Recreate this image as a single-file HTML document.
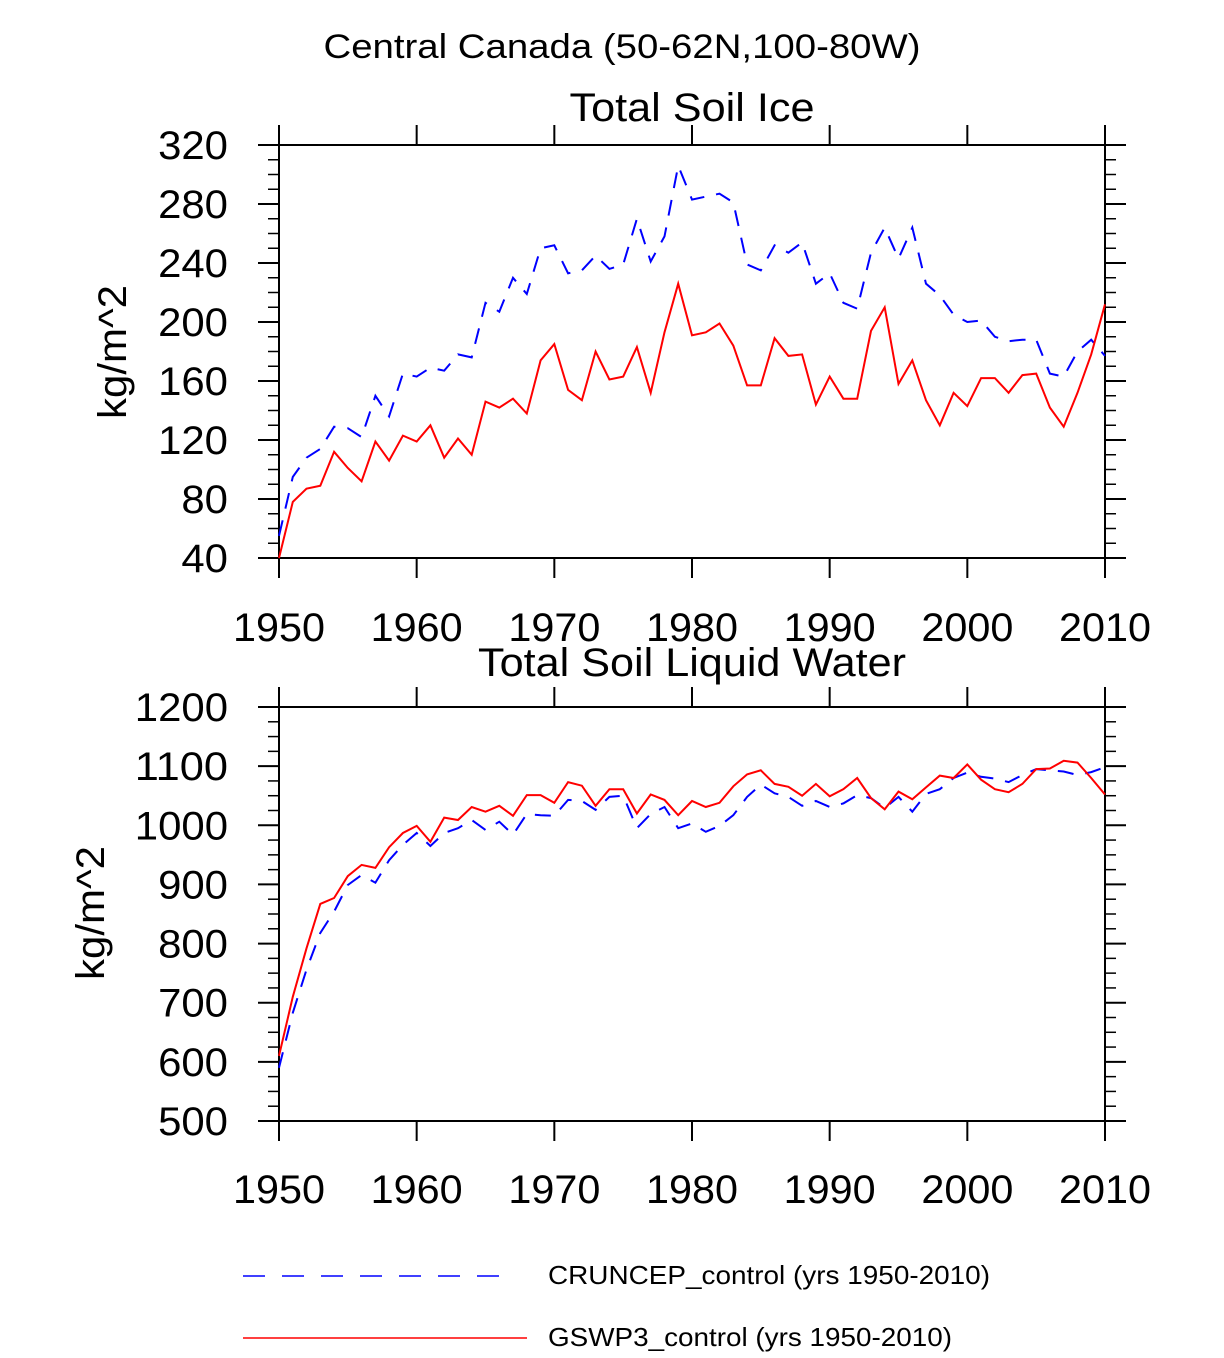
<!DOCTYPE html>
<html><head><meta charset="utf-8"><style>
body{margin:0;background:#fff;}
svg text{font-family:"Liberation Sans",Arial,sans-serif;fill:#000;}
</style></head><body>
<svg id="chart" width="1224" height="1353" viewBox="0 0 1224 1353" xmlns="http://www.w3.org/2000/svg">
<text x="622" y="58" font-size="34" text-anchor="middle" textLength="597" lengthAdjust="spacingAndGlyphs">Central Canada (50-62N,100-80W)</text>
<text x="692" y="121" font-size="40" text-anchor="middle" textLength="245" lengthAdjust="spacingAndGlyphs">Total Soil Ice</text>
<text x="692" y="676" font-size="40" text-anchor="middle" textLength="428" lengthAdjust="spacingAndGlyphs">Total Soil Liquid Water</text>
<text transform="translate(126,352) rotate(-90)" font-size="40" text-anchor="middle" textLength="134" lengthAdjust="spacingAndGlyphs">kg/m^2</text>
<text transform="translate(104,913) rotate(-90)" font-size="40" text-anchor="middle" textLength="134" lengthAdjust="spacingAndGlyphs">kg/m^2</text>
<g id="p1"></g><g id="p2"></g>
<g>
<line x1="243" y1="1276" x2="515" y2="1276" stroke="#0000ff" stroke-width="1.5" stroke-dasharray="22,17"/>
<text x="548" y="1284" font-size="26" textLength="442" lengthAdjust="spacingAndGlyphs">CRUNCEP_control (yrs 1950-2010)</text>
<line x1="243" y1="1338" x2="527" y2="1338" stroke="#ff0000" stroke-width="1.5"/>
<text x="548" y="1346" font-size="26" textLength="404" lengthAdjust="spacingAndGlyphs">GSWP3_control (yrs 1950-2010)</text>
</g>
</svg>
<script>
const years=[];for(let y=1950;y<=2010;y++)years.push(y);
const xTicks=[1950,1960,1970,1980,1990,2000,2010];
const iceYTicks=[40,80,120,160,200,240,280,320];
const liqYTicks=[500,600,700,800,900,1000,1100,1200];
const iceCruncep=[55,95,108,114,129,128,122,150,136,165,163,169,167,178,176,213,207,230,219,250,252,233,235,245,236,239,270,241,258,306,283,285,287,281,239,235,252,247,254,226,233,213,209,247,264,243,264,226,218,205,200,201,190,187,188,188,165,163,180,188,177];
const iceGswp3=[40,78,87,89,112,101,92,119,106,123,119,130,108,121,110,146,142,148,138,174,185,154,147,180,161,163,183,152,193,226,191,193,199,184,157,157,189,177,178,144,163,148,148,194,210,158,174,147,130,152,143,162,162,152,164,165,142,129,152,178,212];
const liqCruncep=[590,683,756,818,854,899,916,903,941,967,987,965,987,995,1009,992,1006,984,1019,1017,1016,1043,1041,1026,1048,1050,995,1019,1031,995,1003,989,999,1017,1048,1069,1054,1048,1033,1041,1031,1037,1051,1046,1029,1048,1023,1053,1061,1080,1089,1082,1079,1073,1085,1095,1093,1091,1085,1090,1098];
const liqGswp3=[610,710,792,867,877,914,933,928,963,987,999,972,1013,1009,1031,1023,1033,1016,1051,1051,1038,1073,1067,1033,1061,1061,1020,1052,1043,1017,1041,1031,1038,1066,1086,1093,1070,1065,1050,1070,1049,1061,1080,1046,1027,1057,1044,1064,1084,1080,1103,1077,1061,1056,1070,1095,1096,1109,1106,1080,1052];
const NS='http://www.w3.org/2000/svg';
function mk(t,a,p){const e=document.createElementNS(NS,t);for(const k in a)e.setAttribute(k,a[k]);p.appendChild(e);return e;}
function plot(g,top,bot,ymin,ymax,yt,minorStep,s1,s2,labY,key){
  const L=279,R=1105;
  const X=v=>L+(v-1950)/60*(R-L);
  const Y=v=>bot-(v-ymin)/(ymax-ymin)*(bot-top);
  const fr=mk('rect',{x:L,y:top,width:R-L,height:bot-top,fill:'none',stroke:'#000','stroke-width':2},g);
  
  
  for(let v=ymin;v<=ymax+1e-9;v+=minorStep){
    const major=yt.includes(Math.round(v));const len=major?21:11;
    mk('line',{x1:L-len,y1:Y(v),x2:L,y2:Y(v),stroke:'#000','stroke-width':major?2:1.5},g);
    mk('line',{x1:R,y1:Y(v),x2:R+len,y2:Y(v),stroke:'#000','stroke-width':major?2:1.5},g);
  }
  yt.forEach(v=>{const s=String(v);
    const t=mk('text',{x:228,y:Y(v)+14,'font-size':40,'text-anchor':'end',textLength:s.length*23.3,lengthAdjust:'spacingAndGlyphs'},g);t.textContent=s;
    
    });
  xTicks.forEach(v=>{
    mk('line',{x1:X(v),y1:top-20,x2:X(v),y2:top,stroke:'#000','stroke-width':2},g);
    mk('line',{x1:X(v),y1:bot,x2:X(v),y2:bot+20,stroke:'#000','stroke-width':2},g);
    const t=mk('text',{x:X(v),y:labY,'font-size':40,'text-anchor':'middle',textLength:92,lengthAdjust:'spacingAndGlyphs'},g);t.textContent=v;
    
    
  });
  const pts=a=>a.map((v,i)=>X(years[i]).toFixed(1)+','+Y(v).toFixed(1)).join(' ');
  const b=mk('polyline',{points:pts(s1),fill:'none',stroke:'#0000ff','stroke-width':2,'stroke-dasharray':'16,12'},g);
  
  
  const r=mk('polyline',{points:pts(s2),fill:'none',stroke:'#ff0000','stroke-width':2},g);
  
  
}
plot(document.getElementById('p1'),145,558,40,320,iceYTicks,10,iceCruncep,iceGswp3,641,'ice');
plot(document.getElementById('p2'),707,1121,500,1200,liqYTicks,25,liqCruncep,liqGswp3,1203,'liquid');
</script>
</body></html>
